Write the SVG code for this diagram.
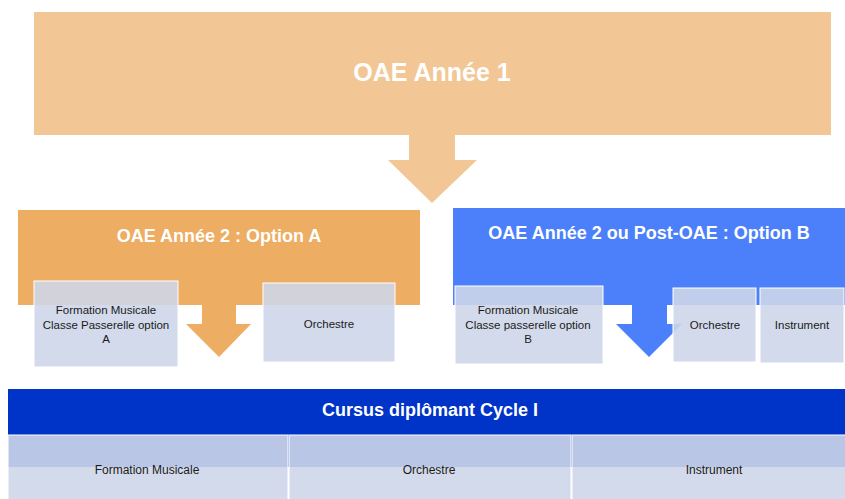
<svg xmlns="http://www.w3.org/2000/svg" width="845" height="499" viewBox="0 0 845 499">
<style>
.t{font-family:"Liberation Sans",Arial,sans-serif;fill:#fff;font-weight:bold;text-anchor:middle}
.s{font-family:"Liberation Sans",Arial,sans-serif;fill:#1a1a1a;font-size:11.5px;text-anchor:middle}
.b{font-size:12px}
.box{fill:#CED6E9;fill-opacity:0.9;stroke:#fff;stroke-width:1}
</style>
<rect width="845" height="499" fill="#fff"/>
<g id="connectors">
<path d="M409,135 H455 V160 H477 L432,203 L388,160 H409 Z" fill="#F2C795"/>
<path d="M202,304 H236 V324 H251 L219,357 L186,324 H202 Z" fill="#EDAD62"/>
<path d="M632,304 H667 V324 H682 L649,357 L616,324 H632 Z" fill="#4B80FA"/>
</g>
<g id="oae1">
<rect x="34" y="12" width="797" height="123" fill="#F2C795"/>
<text class="t" x="432" y="81" font-size="25">OAE Année 1</text>
</g>
<g id="optionA">
<rect x="18" y="210" width="402" height="95" fill="#EDAD62"/>
<text class="t" x="219" y="242" font-size="18">OAE Année 2 : Option A</text>
</g>
<g id="optionB">
<rect x="453" y="208" width="392" height="97" fill="#4B80FA"/>
<text class="t" x="649" y="239" font-size="18">OAE Année 2 ou Post-OAE : Option B</text>
</g>
<g id="fmA">
<rect class="box" x="34" y="281" width="144" height="86"/>
<text class="s" x="106" y="314">Formation Musicale</text>
<text class="s" x="106" y="329">Classe Passerelle option</text>
<text class="s" x="106" y="343">A</text>
</g>
<g id="orchA">
<rect class="box" x="263" y="283" width="132" height="79"/>
<text class="s" x="329" y="328">Orchestre</text>
</g>
<g id="fmB">
<rect class="box" x="455" y="286" width="148" height="78"/>
<text class="s" x="528" y="314">Formation Musicale</text>
<text class="s" x="528" y="329">Classe passerelle option</text>
<text class="s" x="528" y="343">B</text>
</g>
<g id="orchB">
<rect class="box" x="673" y="288" width="83" height="74"/>
<text class="s" x="715" y="329">Orchestre</text>
</g>
<g id="instB">
<rect class="box" x="760" y="288" width="84" height="75"/>
<text class="s" x="802" y="329">Instrument</text>
</g>
<g id="cursus">
<rect x="8" y="389" width="837" height="78" fill="#0033C8"/>
<text class="t" x="430" y="416" font-size="18">Cursus diplômant Cycle I</text>
</g>
<g id="fmC">
<rect class="box" x="8" y="435" width="280" height="70"/>
<text class="s b" x="147" y="474">Formation Musicale</text>
</g>
<g id="orchC">
<rect class="box" x="289" y="435" width="282" height="70"/>
<text class="s b" x="429" y="474">Orchestre</text>
</g>
<g id="instC">
<rect class="box" x="572" y="435" width="274" height="70"/>
<text class="s b" x="714" y="474">Instrument</text>
</g>
</svg>
